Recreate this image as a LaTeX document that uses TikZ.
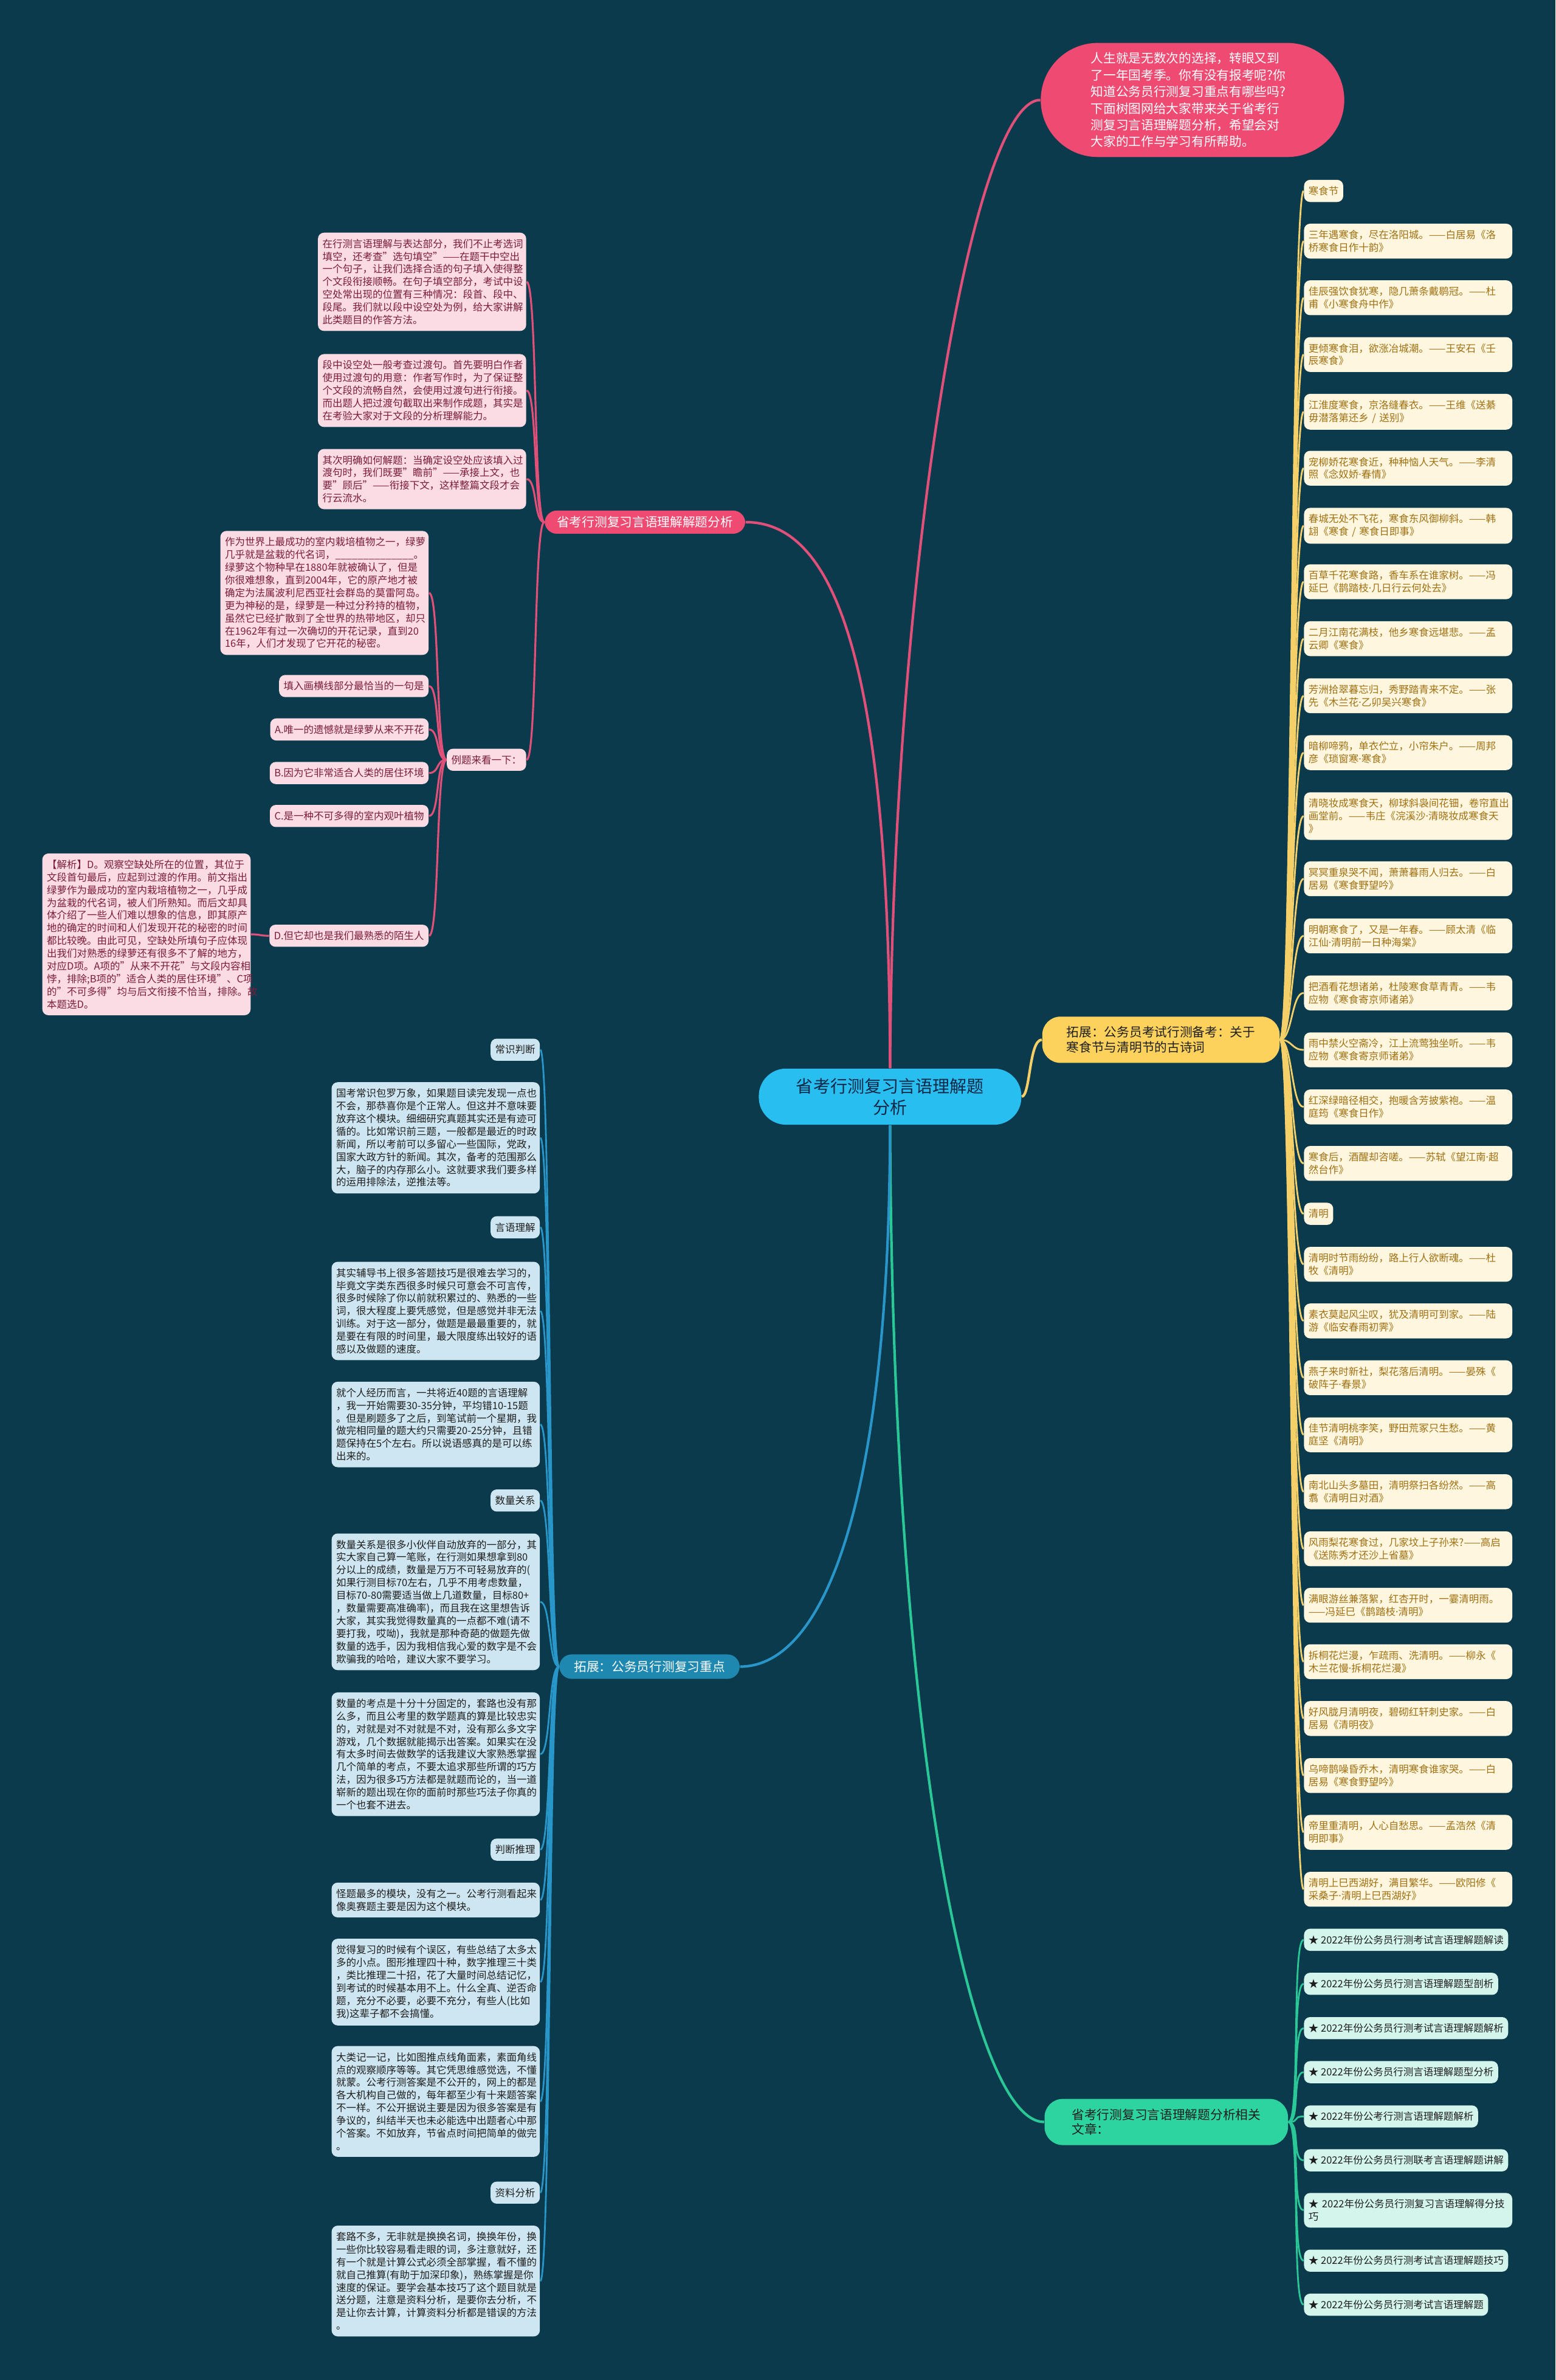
\documentclass[tikz,border=0pt]{standalone}
\usepackage{fontspec}
\setmainfont{Noto Sans CJK SC}
\newfontfamily\westfont{Noto Sans}
\definecolor{bgc}{RGB}{12,58,77}
\definecolor{pinkmain}{RGB}{238,74,114}
\definecolor{pleaf}{RGB}{252,220,228}
\definecolor{ptext}{RGB}{122,28,58}
\definecolor{pline}{RGB}{224,80,120}
\definecolor{ymain}{RGB}{252,210,92}
\definecolor{yleaf}{RGB}{254,246,222}
\definecolor{ytext}{RGB}{160,112,18}
\definecolor{yline}{RGB}{245,208,105}
\definecolor{gmain}{RGB}{46,212,160}
\definecolor{gleaf}{RGB}{212,245,236}
\definecolor{gline}{RGB}{42,200,150}
\definecolor{bmain}{RGB}{30,136,176}
\definecolor{bleaf}{RGB}{206,230,241}
\definecolor{bline}{RGB}{40,150,200}
\definecolor{rootfill}{RGB}{40,190,240}
\definecolor{roottext}{RGB}{18,40,70}
\definecolor{darktext}{RGB}{30,30,30}
\newcommand{\leaffont}{\fontsize{4.7pt}{5.95pt}\selectfont}
\newcommand{\branchfont}{\fontsize{5.9pt}{7.1pt}\selectfont}
\newcommand{\bubblefont}{\fontsize{5.9pt}{7.8pt}\selectfont}
\newcommand{\rootfont}{\fontsize{8pt}{10pt}\selectfont}
\newcommand{\md}{{\westfont ·}}

\begin{document}
\begin{tikzpicture}[x=0.25mm,y=-0.25mm,
  wide/.style={text width=32.8mm},
  toright/.style={to path={.. controls +(8,0) and +(-8,0) .. (\tikztotarget)}},
  toleft/.style={to path={.. controls +(-7,0) and +(7,0) .. (\tikztotarget)}}]
   \fill[bgc] (0,0) rectangle (1025,1568);
   \useasboundingbox (0,0) rectangle (1025,1568);

   \node[fill=rootfill,text=roottext,rounded corners=4.5mm,minimum width=43.25mm,minimum height=9.25mm,align=center,font=\rootfont] (root) at (586.5,722.5) {省考行测复习言语理解题\\分析};

   \node[anchor=north west,fill=pinkmain,text=white,rounded corners=9.4mm,text width=33.5mm,inner xsep=8.25mm,inner ysep=4.5pt,align=left,font=\bubblefont] (intro) at (685.5,28) {人生就是无数次的选择，转眼又到\\了一年国考季。你有没有报考呢?你\\知道公务员行测复习重点有哪些吗?\\下面树图网给大家带来关于省考行\\测复习言语理解题分析，希望会对\\大家的工作与学习有所帮助。};

   \begin{scope}[every node/.style={rounded corners=2mm,align=left,font=\branchfont}]
    \node[fill=pinkmain,text=white,inner xsep=2mm,inner ysep=0.95mm] (pm) at (425,344) {省考行测复习言语理解解题分析};
    \node[fill=ymain,text=darktext,inner xsep=4mm,inner ysep=1.6mm,rounded corners=3mm] (ym) at (765,685) {拓展：公务员考试行测备考：关于\\寒食节与清明节的古诗词};
    \node[fill=gmain,text=darktext,inner xsep=4.5mm,inner ysep=1.6mm,rounded corners=3mm] (gm) at (768.5,1398) {省考行测复习言语理解题分析相关\\文章：};
    \node[fill=bmain,text=white,inner xsep=2.4mm,inner ysep=1.05mm] (bm) at (428,1098) {拓展：公务员行测复习重点};
   \end{scope}

   \begin{scope}[line width=1.2pt]
    \draw[pline] (root.north) .. controls (588,380) and (640,66) .. (intro.west);
    \draw[pline] (root.north) .. controls (586,420) and (545,344) .. (pm.east);
    \draw[yline] (root.east) .. controls (679,722) and (678,685) .. (ym.west);
    \draw[gline] (root.south) .. controls (588,1150) and (640,1398) .. (gm.west);
    \draw[bline] (root.south) .. controls (586,1000) and (540,1098) .. (bm.east);
   \end{scope}

   \begin{scope}[every node/.style={anchor=north east,fill=pleaf,text=ptext,rounded corners=1mm,inner xsep=0.75mm,inner ysep=3pt,align=left,font=\leaffont}]
    \node[wide] (p1) at (347,153) {在行测言语理解与表达部分，我们不止考选词\\填空，还考查"选句填空"——在题干中空出\\一个句子，让我们选择合适的句子填入使得整\\个文段衔接顺畅。在句子填空部分，考试中设\\空处常出现的位置有三种情况：段首、段中、\\段尾。我们就以段中设空处为例，给大家讲解\\此类题目的作答方法。};
    \node[wide] (p2) at (347,233) {段中设空处一般考查过渡句。首先要明白作者\\使用过渡句的用意：作者写作时，为了保证整\\个文段的流畅自然，会使用过渡句进行衔接。\\而出题人把过渡句截取出来制作成题，其实是\\在考验大家对于文段的分析理解能力。};
    \node[wide] (p3) at (347,295.5) {其次明确如何解题：当确定设空处应该填入过\\渡句时，我们既要"瞻前"——承接上文，也\\要"顾后"——衔接下文，这样整篇文段才会\\行云流水。};
    \node (ex) at (347,493) {例题来看一下：};
    \node[wide] (e1) at (282.7,349.5) {作为世界上最成功的室内栽培植物之一，绿萝\\几乎就是盆栽的代名词，\_\_\_\_\_\_\_\_\_\_\_\_\_\_。\\绿萝这个物种早在1880年就被确认了，但是\\你很难想象，直到2004年，它的原产地才被\\确定为法属波利尼西亚社会群岛的莫雷阿岛。\\更为神秘的是，绿萝是一种过分矜持的植物，\\虽然它已经扩散到了全世界的热带地区，却只\\在1962年有过一次确切的开花记录，直到20\\16年，人们才发现了它开花的秘密。};
    \node (e2) at (282.7,444.4) {填入画横线部分最恰当的一句是};
    \node (e3) at (282.7,473) {A.唯一的遗憾就是绿萝从来不开花};
    \node (e4) at (282.7,501.7) {B.因为它非常适合人类的居住环境};
    \node (e5) at (282.7,530) {C.是一种不可多得的室内观叶植物};
    \node (e6) at (282.7,608.9) {D.但它却也是我们最熟悉的陌生人};
    \node[wide] (e7) at (165.4,562) {【解析】D。观察空缺处所在的位置，其位于\\文段首句最后，应起到过渡的作用。前文指出\\绿萝作为最成功的室内栽培植物之一，几乎成\\为盆栽的代名词，被人们所熟知。而后文却具\\体介绍了一些人们难以想象的信息，即其原产\\地的确定的时间和人们发现开花的秘密的时间\\都比较晚。由此可见，空缺处所填句子应体现\\出我们对熟悉的绿萝还有很多不了解的地方，\\对应D项。A项的"从来不开花"与文段内容相\\悖，排除;B项的"适合人类的居住环境"、C项\\的"不可多得"均与后文衔接不恰当，排除。故\\本题选D。};
   \end{scope}

   \begin{scope}[every edge/.style={draw=pline,line width=0.9pt,toleft}]
    \draw (pm.west) edge (p1.east);
    \draw (pm.west) edge (p2.east);
    \draw (pm.west) edge (p3.east);
    \draw (pm.west) edge (ex.east);
    \draw (ex.west) edge (e1.east);
    \draw (ex.west) edge (e2.east);
    \draw (ex.west) edge (e3.east);
    \draw (ex.west) edge (e4.east);
    \draw (ex.west) edge (e5.east);
    \draw (ex.west) edge (e6.east);
    \draw (e6.west) edge (e7.east);
   \end{scope}

   \begin{scope}[every node/.style={anchor=north west,fill=yleaf,text=ytext,rounded corners=1mm,inner xsep=0.75mm,inner ysep=3pt,align=left,font=\leaffont}]
    \node (y0) at (859,118.2) {寒食节};
    \node[wide] (y1) at (859,147.1) {三年遇寒食，尽在洛阳城。——白居易《洛\\桥寒食日作十韵》};
    \node[wide] (y2) at (859,184.4) {佳辰强饮食犹寒，隐几萧条戴鹖冠。——杜\\甫《小寒食舟中作》};
    \node[wide] (y3) at (859,221.8) {更倾寒食泪，欲涨冶城潮。——王安石《壬\\辰寒食》};
    \node[wide] (y4) at (859,259.2) {江淮度寒食，京洛缝春衣。——王维《送綦\\毋潜落第还乡 / 送别》};
    \node[wide] (y5) at (859,296.7) {宠柳娇花寒食近，种种恼人天气。——李清\\照《念奴娇\md 春情》};
    \node[wide] (y6) at (859,334.3) {春城无处不飞花，寒食东风御柳斜。——韩\\翃《寒食 / 寒食日即事》};
    \node[wide] (y7) at (859,371.5) {百草千花寒食路，香车系在谁家树。——冯\\延巳《鹊踏枝\md 几日行云何处去》};
    \node[wide] (y8) at (859,409) {二月江南花满枝，他乡寒食远堪悲。——孟\\云卿《寒食》};
    \node[wide] (y9) at (859,446.6) {芳洲拾翠暮忘归，秀野踏青来不定。——张\\先《木兰花\md 乙卯吴兴寒食》};
    \node[wide] (y10) at (859,484.1) {暗柳啼鸦，单衣伫立，小帘朱户。——周邦\\彦《琐窗寒\md 寒食》};
    \node[wide] (y11) at (859,521.7) {清晓妆成寒食天，柳球斜袅间花钿，卷帘直出\\画堂前。——韦庄《浣溪沙\md 清晓妆成寒食天\\》};
    \node[wide] (y12) at (859,567.2) {冥冥重泉哭不闻，萧萧暮雨人归去。——白\\居易《寒食野望吟》};
    \node[wide] (y13) at (859,604.8) {明朝寒食了，又是一年春。——顾太清《临\\江仙\md 清明前一日种海棠》};
    \node[wide] (y14) at (859,642.4) {把酒看花想诸弟，杜陵寒食草青青。——韦\\应物《寒食寄京师诸弟》};
    \node[wide] (y15) at (859,679.9) {雨中禁火空斋冷，江上流莺独坐听。——韦\\应物《寒食寄京师诸弟》};
    \node[wide] (y16) at (859,717.5) {红深绿暗径相交，抱暖含芳披紫袍。——温\\庭筠《寒食日作》};
    \node[wide] (y17) at (859,754.7) {寒食后，酒醒却咨嗟。——苏轼《望江南\md 超\\然台作》};
    \node (q0) at (859,792.1) {清明};
    \node[wide] (q1) at (859,821.2) {清明时节雨纷纷，路上行人欲断魂。——杜\\牧《清明》};
    \node[wide] (q2) at (859,858.5) {素衣莫起风尘叹，犹及清明可到家。——陆\\游《临安春雨初霁》};
    \node[wide] (q3) at (859,895.9) {燕子来时新社，梨花落后清明。——晏殊《\\破阵子\md 春景》};
    \node[wide] (q4) at (859,933.5) {佳节清明桃李笑，野田荒冢只生愁。——黄\\庭坚《清明》};
    \node[wide] (q5) at (859,971) {南北山头多墓田，清明祭扫各纷然。——高\\翥《清明日对酒》};
    \node[wide] (q6) at (859,1008.6) {风雨梨花寒食过，几家坟上子孙来?——高启\\《送陈秀才还沙上省墓》};
    \node[wide] (q7) at (859,1045.8) {满眼游丝兼落絮，红杏开时，一霎清明雨。\\——冯延巳《鹊踏枝\md 清明》};
    \node[wide] (q8) at (859,1083) {拆桐花烂漫，乍疏雨、洗清明。——柳永《\\木兰花慢\md 拆桐花烂漫》};
    \node[wide] (q9) at (859,1120.4) {好风胧月清明夜，碧砌红轩刺史家。——白\\居易《清明夜》};
    \node[wide] (q10) at (859,1158) {乌啼鹊噪昏乔木，清明寒食谁家哭。——白\\居易《寒食野望吟》};
    \node[wide] (q11) at (859,1195.4) {帝里重清明，人心自愁思。——孟浩然《清\\明即事》};
    \node[wide] (q12) at (859,1232.9) {清明上巳西湖好，满目繁华。——欧阳修《\\采桑子\md 清明上巳西湖好》};
   \end{scope}

   \begin{scope}[every edge/.style={draw=yline,line width=0.8pt,toright}]
    \draw (ym.east) edge (y0.west);
    \draw (ym.east) edge (y1.west);
    \draw (ym.east) edge (y2.west);
    \draw (ym.east) edge (y3.west);
    \draw (ym.east) edge (y4.west);
    \draw (ym.east) edge (y5.west);
    \draw (ym.east) edge (y6.west);
    \draw (ym.east) edge (y7.west);
    \draw (ym.east) edge (y8.west);
    \draw (ym.east) edge (y9.west);
    \draw (ym.east) edge (y10.west);
    \draw (ym.east) edge (y11.west);
    \draw (ym.east) edge (y12.west);
    \draw (ym.east) edge (y13.west);
    \draw (ym.east) edge (y14.west);
    \draw (ym.east) edge (y15.west);
    \draw (ym.east) edge (y16.west);
    \draw (ym.east) edge (y17.west);
    \draw (ym.east) edge (q0.west);
    \draw (ym.east) edge (q1.west);
    \draw (ym.east) edge (q2.west);
    \draw (ym.east) edge (q3.west);
    \draw (ym.east) edge (q4.west);
    \draw (ym.east) edge (q5.west);
    \draw (ym.east) edge (q6.west);
    \draw (ym.east) edge (q7.west);
    \draw (ym.east) edge (q8.west);
    \draw (ym.east) edge (q9.west);
    \draw (ym.east) edge (q10.west);
    \draw (ym.east) edge (q11.west);
    \draw (ym.east) edge (q12.west);
   \end{scope}

   \begin{scope}[every node/.style={anchor=north west,fill=gleaf,text=darktext,rounded corners=1mm,inner xsep=0.75mm,inner ysep=3pt,align=left,font=\leaffont}]
    \node (g1) at (859,1270.4) {★ 2022年份公务员行测考试言语理解题解读};
    \node (g2) at (859,1299.4) {★ 2022年份公务员行测言语理解题型剖析};
    \node (g3) at (859,1328.6) {★ 2022年份公务员行测考试言语理解题解析};
    \node (g4) at (859,1357.6) {★ 2022年份公务员行测言语理解题型分析};
    \node (g5) at (859,1386.8) {★ 2022年份公考行测言语理解题解析};
    \node (g6) at (859,1415.7) {★ 2022年份公务员行测联考言语理解题讲解};
    \node[wide] (g7) at (859,1444.5) {★ 2022年份公务员行测复习言语理解得分技\\巧};
    \node (g8) at (859,1481.8) {★ 2022年份公务员行测考试言语理解题技巧};
    \node (g9) at (859,1510.8) {★ 2022年份公务员行测考试言语理解题};
   \end{scope}

   \begin{scope}[every edge/.style={draw=gline,line width=0.8pt,toright}]
    \draw (gm.east) edge (g1.west);
    \draw (gm.east) edge (g2.west);
    \draw (gm.east) edge (g3.west);
    \draw (gm.east) edge (g4.west);
    \draw (gm.east) edge (g5.west);
    \draw (gm.east) edge (g6.west);
    \draw (gm.east) edge (g7.west);
    \draw (gm.east) edge (g8.west);
    \draw (gm.east) edge (g9.west);
   \end{scope}

   \begin{scope}[every node/.style={anchor=north east,fill=bleaf,text=darktext,rounded corners=1mm,inner xsep=0.75mm,inner ysep=3pt,align=left,font=\leaffont}]
    \node (b1) at (356,684) {常识判断};
    \node[wide] (b2) at (356,712.7) {国考常识包罗万象，如果题目读完发现一点也\\不会，那恭喜你是个正常人。但这并不意味要\\放弃这个模块。细细研究真题其实还是有迹可\\循的。比如常识前三题，一般都是最近的时政\\新闻，所以考前可以多留心一些国际，党政，\\国家大政方针的新闻。其次，备考的范围那么\\大，脑子的内存那么小。这就要求我们要多样\\的运用排除法，逆推法等。};
    \node (b3) at (356,801) {言语理解};
    \node[wide] (b4) at (356,831) {其实辅导书上很多答题技巧是很难去学习的，\\毕竟文字类东西很多时候只可意会不可言传，\\很多时候除了你以前就积累过的、熟悉的一些\\词，很大程度上要凭感觉，但是感觉并非无法\\训练。对于这一部分，做题是最最重要的，就\\是要在有限的时间里，最大限度练出较好的语\\感以及做题的速度。};
    \node[wide] (b5) at (356,910) {就个人经历而言，一共将近40题的言语理解\\，我一开始需要30-35分钟，平均错10-15题\\。但是刷题多了之后，到笔试前一个星期，我\\做完相同量的题大约只需要20-25分钟，且错\\题保持在5个左右。所以说语感真的是可以练\\出来的。};
    \node (b6) at (356,981) {数量关系};
    \node[wide] (b7) at (356,1010) {数量关系是很多小伙伴自动放弃的一部分，其\\实大家自己算一笔账，在行测如果想拿到80\\分以上的成绩，数量是万万不可轻易放弃的(\\如果行测目标70左右，几乎不用考虑数量，\\目标70-80需要适当做上几道数量，目标80+\\，数量需要高准确率)，而且我在这里想告诉\\大家，其实我觉得数量真的一点都不难(请不\\要打我，哎呦)，我就是那种奇葩的做题先做\\数量的选手，因为我相信我心爱的数字是不会\\欺骗我的哈哈，建议大家不要学习。};
    \node[wide] (b8) at (356,1114.7) {数量的考点是十分十分固定的，套路也没有那\\么多，而且公考里的数学题真的算是比较忠实\\的，对就是对不对就是不对，没有那么多文字\\游戏，几个数据就能揭示出答案。如果实在没\\有太多时间去做数学的话我建议大家熟悉掌握\\几个简单的考点，不要太追求那些所谓的巧方\\法，因为很多巧方法都是就题而论的，当一道\\崭新的题出现在你的面前时那些巧法子你真的\\一个也套不进去。};
    \node (b9) at (356,1211) {判断推理};
    \node[wide] (b10) at (356,1240) {怪题最多的模块，没有之一。公考行测看起来\\像奥赛题主要是因为这个模块。};
    \node[wide] (b11) at (356,1277) {觉得复习的时候有个误区，有些总结了太多太\\多的小点。图形推理四十种，数字推理三十类\\，类比推理二十招，花了大量时间总结记忆，\\到考试的时候基本用不上。什么全真、逆否命\\题，充分不必要，必要不充分，有些人(比如\\我)这辈子都不会搞懂。};
    \node[wide] (b12) at (356,1347.7) {大类记一记，比如图推点线角面素，素面角线\\点的观察顺序等等。其它凭思维感觉选，不懂\\就蒙。公考行测答案是不公开的，网上的都是\\各大机构自己做的，每年都至少有十来题答案\\不一样。不公开据说主要是因为很多答案是有\\争议的，纠结半天也未必能选中出题者心中那\\个答案。不如放弃，节省点时间把简单的做完\\。};
    \node (b13) at (356,1437) {资料分析};
    \node[wide] (b14) at (356,1466) {套路不多，无非就是换换名词，换换年份，换\\一些你比较容易看走眼的词，多注意就好，还\\有一个就是计算公式必须全部掌握，看不懂的\\就自己推算(有助于加深印象)，熟练掌握是你\\速度的保证。要学会基本技巧了这个题目就是\\送分题，注意是资料分析，是要你去分析，不\\是让你去计算，计算资料分析都是错误的方法\\。};
   \end{scope}

   \begin{scope}[every edge/.style={draw=bline,line width=0.8pt,toleft}]
    \draw (bm.west) edge (b1.east);
    \draw (bm.west) edge (b2.east);
    \draw (bm.west) edge (b3.east);
    \draw (bm.west) edge (b4.east);
    \draw (bm.west) edge (b5.east);
    \draw (bm.west) edge (b6.east);
    \draw (bm.west) edge (b7.east);
    \draw (bm.west) edge (b8.east);
    \draw (bm.west) edge (b9.east);
    \draw (bm.west) edge (b10.east);
    \draw (bm.west) edge (b11.east);
    \draw (bm.west) edge (b12.east);
    \draw (bm.west) edge (b13.east);
    \draw (bm.west) edge (b14.east);
   \end{scope}
\end{tikzpicture}
\end{document}
